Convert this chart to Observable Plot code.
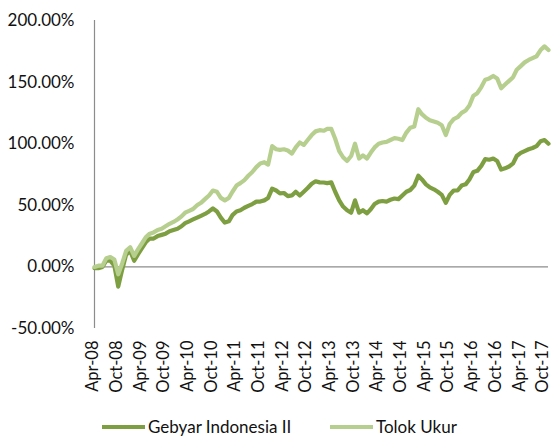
<!DOCTYPE html>
<html>
<head>
<meta charset="utf-8">
<script src="https://cdn.jsdelivr.net/npm/d3@7"></script>
<script src="https://cdn.jsdelivr.net/npm/@observablehq/plot@0.6"></script>
<style>
  html, body { margin: 0; padding: 0; background: #fff; }
  body { width: 552px; height: 437px; overflow: hidden; font-family: Lato, "Open Sans", sans-serif; }
  #legend { position: absolute; left: 0; top: 416px; width: 552px; height: 21px; font: 17px Lato, sans-serif; color: #111; }
  .item { position: absolute; top: 0; display: flex; align-items: center; height: 21px; }
  .sw { display: inline-block; width: 43px; height: 4px; margin-right: 3px; }
</style>
</head>
<body>
<div id="chart"></div>
<div id="legend"></div>
<script>
// Series names and colours
const seriesNames = ["Gebyar Indonesia II", "Tolok Ukur"];
const seriesColors = ["#7E9F41", "#B6CF8E"];

// First month of the monthly series (Apr-08), one value per month to Nov-17
const startMonth = "2008-04";

// Gebyar Indonesia II cumulative return (%)
const gebyar = [
  -1, -1, 0, 5, 5, 1, -16, -2, 10, 13,
  5, 10, 15, 20, 23, 23, 25, 26, 27, 29,
  30, 31, 33, 35.5, 37, 38.5, 40, 41.5, 43, 45,
  47.5, 45, 40, 36, 37, 42, 45, 46, 48, 49.5,
  51, 53, 53, 54, 56, 63.5, 62, 59.7, 60, 57.5,
  58, 61, 58, 61, 64, 67.5, 69.5, 68.6, 68.5, 68,
  68.6, 61, 54, 49, 46, 44, 54, 44, 46, 43.5,
  47, 51, 53, 53.5, 53, 54.5, 55.5, 55, 58, 61,
  62.4, 66, 74, 71, 67, 64.5, 63, 61, 58.5, 52,
  58.5, 62, 62, 66, 67, 71, 77, 78, 82, 87.5,
  87, 88, 86, 79, 80, 81.5, 84, 90, 92.5, 94,
  95.5, 96.5, 98, 102, 103, 100
];

// Tolok Ukur (benchmark) cumulative return (%)
const tolokUkur = [
  0, 1, 1, 7, 8, 6, -6, 3, 13, 16,
  9, 14, 19, 24, 27, 28, 30, 31, 33, 35,
  36.5, 38.5, 41, 44, 45.5, 47, 50, 52, 55, 58,
  62, 61, 56, 54, 56, 61, 66, 68, 70.5, 74,
  77, 81, 84, 85, 83, 98, 95.5, 95, 95.5, 94.5,
  92, 97, 101, 99, 103, 107, 110, 111, 110.5, 112,
  112, 104, 94, 89, 86, 90, 100, 88, 90.5, 88,
  93, 97, 100, 101, 101.5, 103, 104.5, 104, 103, 109,
  113, 114, 128, 124, 121, 119, 118, 117, 115, 107,
  116, 120, 121.5, 125, 127, 131, 139, 141, 146, 152,
  153, 155, 153, 145, 148, 151, 154, 160, 163, 166,
  168, 169.5, 171, 176, 179, 176
];

// Y axis ticks (%)
const yTicks = [-50, 0, 50, 100, 150, 200];
// X axis tick labels
const xTickLabels = ["Apr-08","Oct-08","Apr-09","Oct-09","Apr-10","Oct-10","Apr-11","Oct-11","Apr-12","Oct-12",
  "Apr-13","Oct-13","Apr-14","Oct-14","Apr-15","Oct-15","Apr-16","Oct-16","Apr-17","Oct-17"];

const parseMonth = d3.utcParse("%Y-%m");
const parseLabel = d3.utcParse("%b-%y");
const fmtLabel = d3.utcFormat("%b-%y");
const start = parseMonth(startMonth);
const dates = gebyar.map((_, i) => d3.utcMonth.offset(start, i));

const rows = [];
dates.forEach((d, i) => rows.push({date: d, value: gebyar[i], series: seriesNames[0]}));
dates.forEach((d, i) => rows.push({date: d, value: tolokUkur[i], series: seriesNames[1]}));

const xTicks = xTickLabels.map(parseLabel);
const font = "Lato, sans-serif";

const chart = Plot.plot({
  width: 552,
  height: 400,
  marginTop: 20,
  marginBottom: 72,
  marginLeft: 94,
  marginRight: 4,
  style: {fontFamily: font, fontSize: "17px", color: "#111", background: "#fff", overflow: "visible"},
  x: {type: "utc", domain: [dates[0], dates[dates.length - 1]]},
  y: {domain: [-50, 200]},
  color: {domain: seriesNames, range: seriesColors},
  marks: [
    Plot.axisY({ticks: yTicks, tickSize: 0, tickPadding: 20, tickFormat: d => d.toFixed(2) + "%", label: null, fontSize: 17}),
    Plot.axisX({ticks: xTicks, tickSize: 0, tickPadding: 12, tickRotate: -90, tickFormat: fmtLabel, label: null, fontSize: 16.5, dx: -1.5}),
    Plot.ruleX([dates[0]], {y1: -50, y2: 200, stroke: "#8c8c8c", strokeWidth: 1.2}),
    Plot.ruleY([0], {stroke: "#8c8c8c", strokeWidth: 1.2}),
    Plot.line(rows, {x: "date", y: "value", z: "series", stroke: "series", strokeWidth: 4.2, strokeLinejoin: "round", strokeLinecap: "round"})
  ]
});
document.getElementById("chart").appendChild(chart);

// Legend below the chart
const legend = document.getElementById("legend");
const positions = [102, 330];
seriesNames.forEach((name, i) => {
  const item = document.createElement("div");
  item.className = "item";
  item.style.left = positions[i] + "px";
  const sw = document.createElement("span");
  sw.className = "sw";
  sw.style.background = seriesColors[i];
  item.appendChild(sw);
  item.appendChild(document.createTextNode(name));
  legend.appendChild(item);
});
</script>
</body>
</html>
